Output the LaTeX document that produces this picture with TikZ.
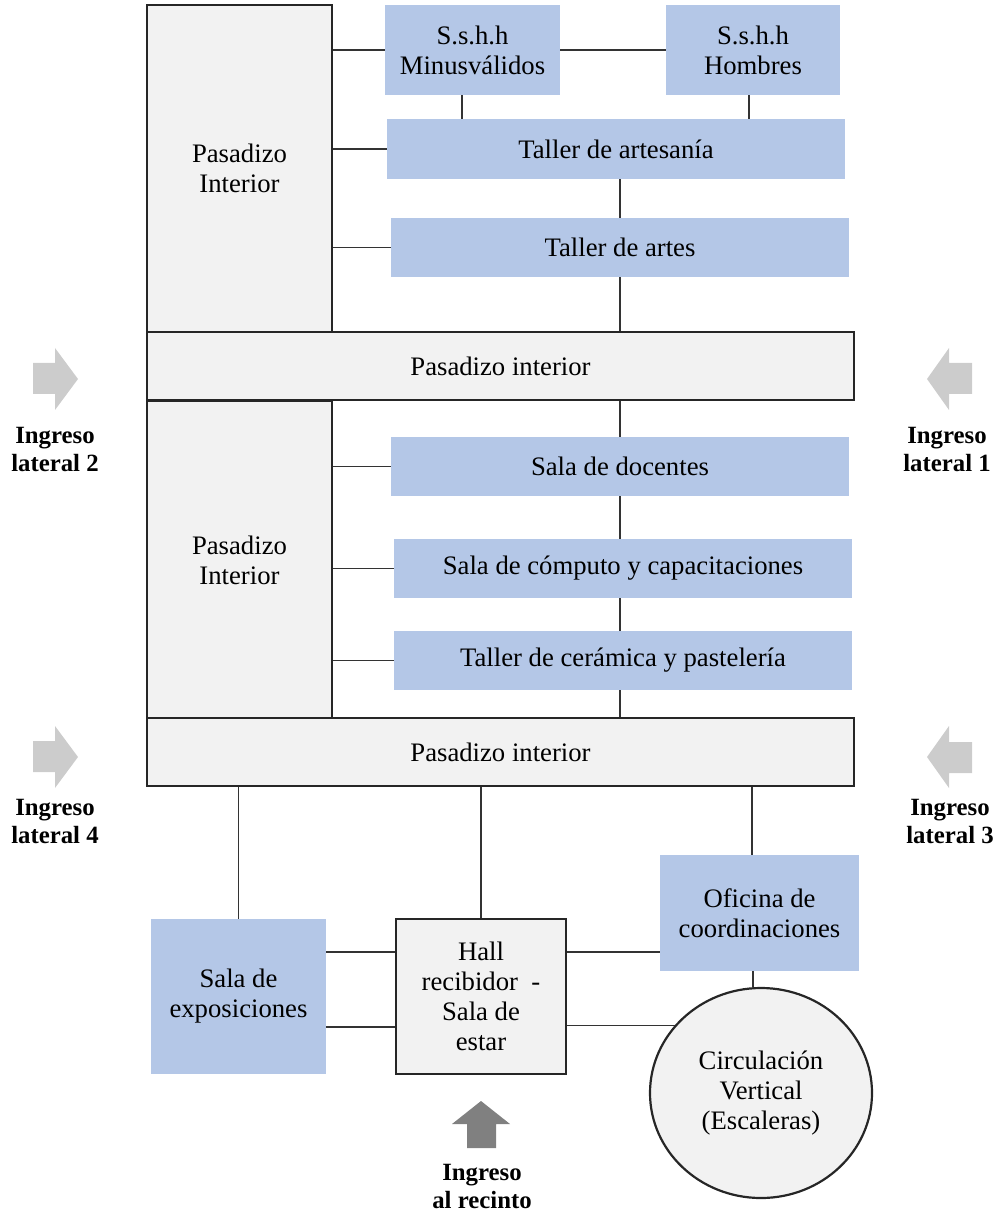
\documentclass[tikz,border=0pt]{standalone}
\usepackage{fontspec}
\setmainfont{Liberation Serif}[Ligatures=TeX]
\newfontfamily\planfont{Liberation Serif}

\usetikzlibrary{shapes.geometric}

\definecolor{roomblue}{HTML}{B4C7E7}
\definecolor{hallgray}{HTML}{F2F2F2}

\begin{document}
\begin{tikzpicture}[
    x=0.5pt, y=-0.5pt,
    txt/.style   ={font=\planfont\fontsize{13.35}{15}\selectfont, align=center, inner sep=0pt},
    paso/.style  ={txt, draw=black!85, line width=1.1pt, fill=hallgray},
    room/.style  ={txt, fill=roomblue},
    link/.style  ={draw=black!80, line width=0.6pt},
    entry/.style ={font=\planfont\fontsize{12.4}{14}\selectfont\bfseries, align=center, inner sep=0pt},
    side/.style  ={fill=black!20},
    main/.style  ={fill=black!50},
]
\useasboundingbox (0,0) rectangle (999,1224);

% ── Pasadizos ───────────────────────────────────────────────────────────
\node[paso, minimum width=92.5pt, minimum height=163.5pt] (pasA) at (239.5,168.5) {Pasadizo\\Interior};
\node[paso, minimum width=353.5pt, minimum height=34pt]   (barA) at (500.5,366)   {Pasadizo interior};
\node[paso, minimum width=92.5pt, minimum height=159pt]   (pasB) at (239.5,560)   {Pasadizo\\Interior};
\node[paso, minimum width=353.5pt, minimum height=34pt]   (barB) at (500.5,752)   {Pasadizo interior};

% ── Ambientes superiores ────────────────────────────────────────────────
\node[room, minimum width=87.5pt, minimum height=45pt]  (ssmin)  at (472.5,50)  {S.s.h.h\\Minusválidos};
\node[room, minimum width=87pt,   minimum height=45pt]  (sshom)  at (753,50)    {S.s.h.h\\Hombres};
\node[room, minimum width=229pt,  minimum height=30pt]  (tart)   at (616,149)   {Taller de artesanía};
\node[room, minimum width=229pt,  minimum height=29.5pt](tartes) at (620,247.5) {Taller de artes};

% ── Ambientes intermedios ───────────────────────────────────────────────
\node[room, minimum width=229pt, minimum height=29.5pt] (doc)  at (620,466.5) {Sala de docentes};
\node[room, minimum width=229pt, minimum height=29.5pt] (comp) at (623,568.5) {Sala de cómputo y capacitaciones};
\node[room, minimum width=229pt, minimum height=29.5pt] (cer)  at (623,660.5) {Taller de cerámica y pastelería};

% ── Ambientes inferiores ────────────────────────────────────────────────
\node[room, minimum width=87.5pt, minimum height=77.5pt] (expo) at (238.5,996.5) {Sala de\\exposiciones};
\node[paso, minimum width=85pt,   minimum height=77.5pt] (hall) at (481,996.5)   {Hall\\recibidor~~-\\Sala de\\estar};
\node[room, minimum width=99.5pt, minimum height=58pt]   (ofi)  at (759.5,913)   {Oficina de\\coordinaciones};
\node[paso, ellipse, minimum width=111pt, minimum height=105pt] (circ) at (761,1093)
      {Circulación\\Vertical\\(Escaleras)};

% ── Ingresos ────────────────────────────────────────────────────────────
\fill[side] (33,363) -- (55,363) -- (55,348) -- (78,379) -- (55,410) -- (55,394) -- (33,394) -- cycle;
\fill[side] (33,741) -- (55,741) -- (55,726) -- (78,757) -- (55,788) -- (55,772) -- (33,772) -- cycle;
\fill[side] (972,363) -- (949,363) -- (949,348) -- (927,379) -- (949,410) -- (949,394) -- (972,394) -- cycle;
\fill[side] (972,742) -- (949,742) -- (949,726) -- (927,757) -- (949,788) -- (949,773) -- (972,773) -- cycle;
\fill[main] (467,1148) -- (467,1124) -- (452,1124) -- (481,1101) -- (510,1124) -- (496,1124) -- (496,1148) -- cycle;

\node[entry] (in2) at (55,450)   {Ingreso\\lateral 2};
\node[entry] (in1) at (947,450)  {Ingreso\\lateral 1};
\node[entry] (in4) at (55,821)   {Ingreso\\lateral 4};
\node[entry] (in3) at (950,821)  {Ingreso\\lateral 3};
\node[entry] (in0) at (482,1186) {Ingreso\\al recinto};

% ── Conexiones ──────────────────────────────────────────────────────────
\draw[link] (ssmin.west)  -- (ssmin.west -| pasA.east);
\draw[link] (ssmin.east)  -- (sshom.west);
\draw[link] ([xshift=-5.25pt]ssmin.south) -- ([xshift=-5.25pt]ssmin.south |- tart.north);
\draw[link] ([xshift=-2pt]sshom.south)    -- ([xshift=-2pt]sshom.south |- tart.north);
\draw[link] (tart.west)   -- (tart.west -| pasA.east);
\draw[link] (tartes.west) -- (tartes.west -| pasA.east);
\draw[link] (tartes.north) -- (tartes.north |- tart.south);
\draw[link] (tartes.south) -- (tartes.south |- barA.north);
\draw[link] (doc.north |- barA.south) -- (doc.north);
\draw[link] (doc.west)  -- (doc.west -| pasB.east);
\draw[link] (comp.west) -- (comp.west -| pasB.east);
\draw[link] (cer.west)  -- (cer.west -| pasB.east);
\draw[link] (doc.south) -- (doc.south |- comp.north);
\draw[link] ([xshift=-1.5pt]comp.south) -- ([xshift=-1.5pt]comp.south |- cer.north);
\draw[link] ([xshift=-1.5pt]cer.south)  -- ([xshift=-1.5pt]cer.south |- barB.north);
\draw[link] (expo.north) -- (expo.north |- barB.south);
\draw[link] (hall.north) -- (hall.north |- barB.south);
\draw[link] ([xshift=-3.75pt]ofi.north) -- ([xshift=-3.75pt]ofi.north |- barB.south);
\draw[link] ([yshift=22.25pt]expo.east)  -- ([yshift=22.25pt]hall.west);
\draw[link] ([yshift=-15.25pt]expo.east) -- ([yshift=-15.25pt]hall.west);
\draw[link] ([yshift=22.25pt]hall.east)  -- ([yshift=22.25pt]hall.east -| ofi.west);
\draw[link] (circ.142.5) -- (circ.142.5 -| hall.east);
\draw[link] ([xshift=-3.25pt]ofi.south) -- ([xshift=-3.25pt]ofi.south |- circ.north);

\end{tikzpicture}
\end{document}
